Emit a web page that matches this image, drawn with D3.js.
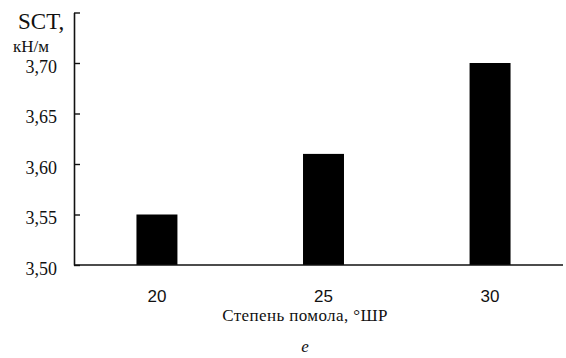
<!DOCTYPE html>
<html>
<head>
<meta charset="utf-8">
<script src="https://cdn.jsdelivr.net/npm/d3@7"></script>
<style>
  html, body { margin: 0; padding: 0; background: #fff; }
  svg { display: block; }
  .serif { font-family: "Liberation Serif", "Times New Roman", serif; }
  .sans { font-family: "Liberation Sans", Arial, sans-serif; }
</style>
</head>
<body>
<svg id="chart" width="566" height="358"></svg>
<script>
const categories = ["20", "25", "30"];
const values = [3.55, 3.61, 3.70];
const yTicks = [3.50, 3.55, 3.60, 3.65, 3.70, 3.75];
const yLabelTop = "SCT,";
const yLabelUnit = "кН/м";
const xLabel = "Степень помола, °ШР";
const panelLetter = "е";

const SERIF = '"Liberation Serif", "Times New Roman", serif';
const SANS = '"Liberation Sans", Arial, sans-serif';

const svg = d3.select("#chart");
const axisX0 = 74, axisX1 = 563;

const y = d3.scaleLinear().domain([3.50, 3.75]).range([265, 12.5]);
const x = d3.scaleBand().domain(categories).range([74, 573])
  .paddingInner(0.754).paddingOuter(0.375);

// bars
svg.append("g").selectAll("rect").data(values).join("rect")
  .attr("x", (d, i) => x(categories[i]))
  .attr("width", x.bandwidth())
  .attr("y", d => y(d))
  .attr("height", d => y(3.50) - y(d))
  .attr("fill", "#000");

// y axis
const yAxis = d3.axisLeft(y).tickValues(yTicks)
  .tickSizeInner(-6).tickSizeOuter(0).tickPadding(17)
  .tickFormat(d => d >= 3.749 ? "" : d3.format(".2f")(d).replace(".", ","));
const gy = svg.append("g").attr("transform", `translate(${axisX0},0)`).call(yAxis);
gy.attr("font-family", null).attr("font-size", null);
gy.select(".domain").attr("stroke", "#111").attr("stroke-width", 1.6);
gy.selectAll(".tick line").attr("stroke", "#111").attr("stroke-width", 1.4);
gy.selectAll(".tick text")
  .style("font-family", SERIF)
  .style("font-size", "18px").attr("fill", "#111")
  .attr("dy", null)
  .attr("y", 9);

// x axis baseline
svg.append("line")
  .attr("x1", axisX0).attr("x2", axisX1)
  .attr("y1", y(3.50)).attr("y2", y(3.50))
  .attr("stroke", "#111").attr("stroke-width", 1.6);

// x tick labels
const xAxis = d3.axisBottom(x).tickSize(0).tickPadding(0);
const gx = svg.append("g").attr("transform", `translate(0,${y(3.50)})`).call(xAxis);
gx.attr("font-family", null).attr("font-size", null);
gx.select(".domain").remove();
gx.selectAll(".tick text")
  .style("font-family", SANS)
  .style("font-size", "17px").attr("fill", "#111")
  .attr("dy", null).attr("y", 37);

// y axis title
svg.append("text").attr("x", 18).attr("y", 29)
  .style("font-family", SERIF)
  .style("font-size", "23px").attr("fill", "#111").text(yLabelTop);
svg.append("text").attr("x", 13).attr("y", 52)
  .style("font-family", SERIF)
  .style("font-size", "17px").attr("fill", "#111").text(yLabelUnit);

// x axis title
svg.append("text").attr("x", 305).attr("y", 321)
  .attr("text-anchor", "middle")
  .style("font-family", SERIF)
  .style("font-size", "17px").style("letter-spacing", "0.4px").attr("fill", "#111").text(xLabel);

// panel letter
svg.append("text").attr("x", 305).attr("y", 352)
  .attr("text-anchor", "middle")
  .style("font-family", SERIF)
  .style("font-style", "italic")
  .style("font-size", "17px").attr("fill", "#111").text(panelLetter);
</script>
</body>
</html>
